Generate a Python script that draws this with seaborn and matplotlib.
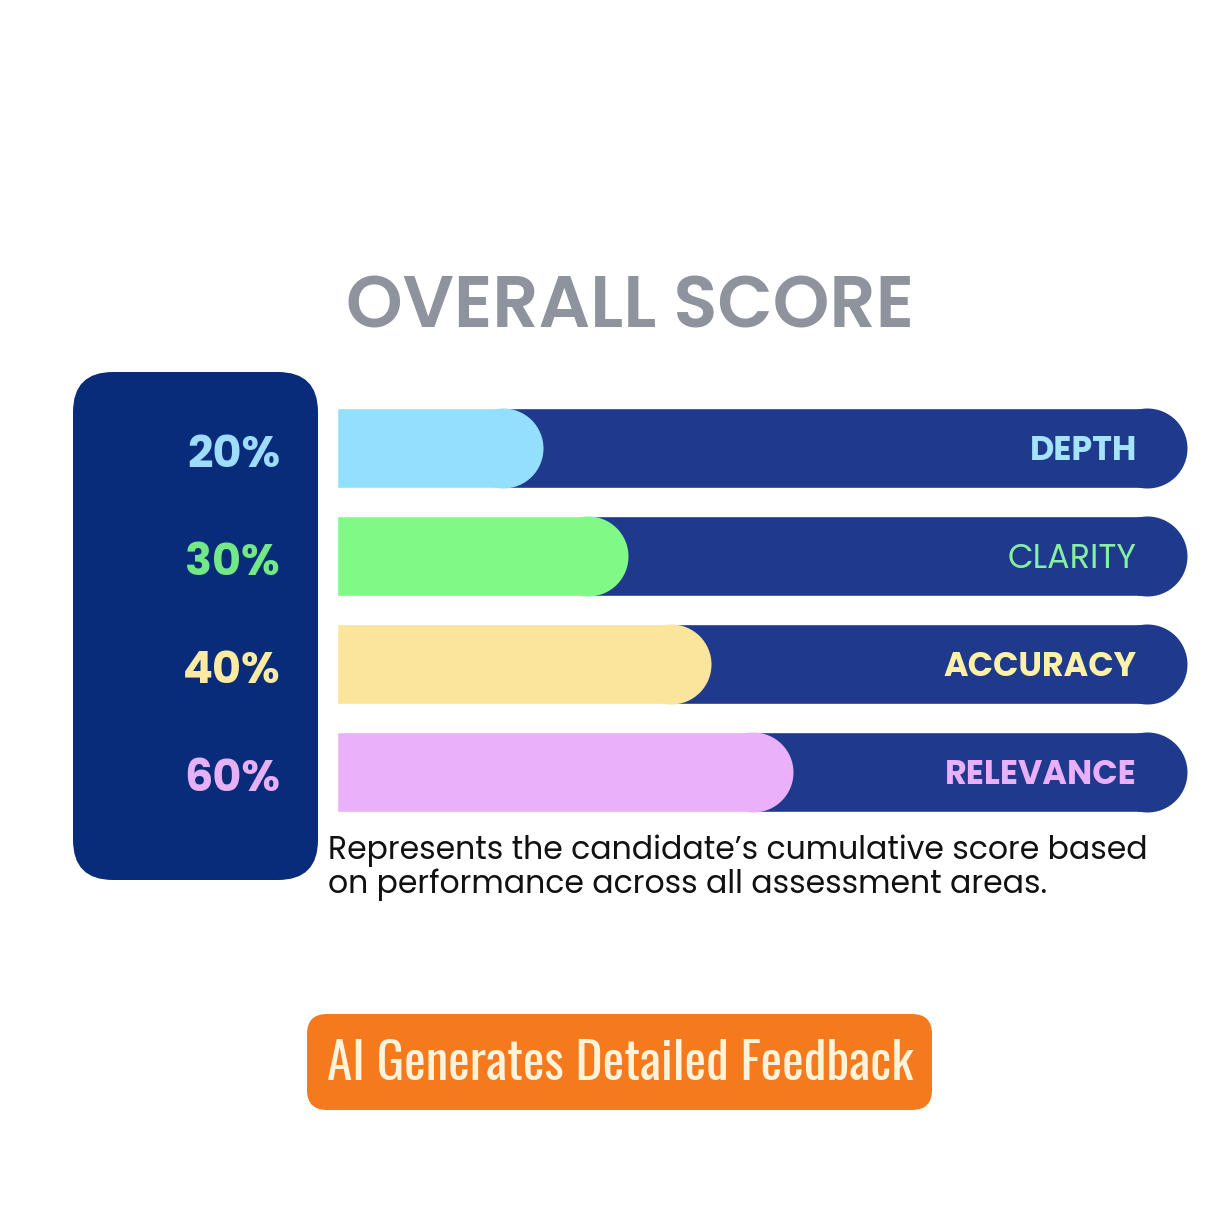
import pandas as pd
import seaborn as sns
import matplotlib.pyplot as plt
from matplotlib.patches import FancyBboxPatch

# --- data ---
areas = ["DEPTH", "CLARITY", "ACCURACY", "RELEVANCE"]
score_labels = ["20%", "30%", "40%", "60%"]
fill_extent = [24.2, 34.2, 44.0, 53.6]   # how far each coloured fill runs along its track (%)
track_extent = [100, 100, 100, 100]

fill_colors = ["#93dffe", "#80f986", "#fbe59b", "#ebb0fa"]
label_colors = ["#a5e3fb", "#86efa0", "#fdf1a6", "#e9b0f9"]
score_colors = ["#9fdcfb", "#74e886", "#fbeaa0", "#e6b0f5"]
label_weights = ["bold", "normal", "bold", "bold"]

caption = ["Represents the candidate\u2019s cumulative score based",
           "on performance across all assessment areas."]

sns.set_theme(style="white")
plt.rcParams["font.family"] = ["Poppins", "DejaVu Sans"]

W = H = 1210
fig = plt.figure(figsize=(12.1, 12.1), dpi=100)
fig.patch.set_facecolor("white")
renderer = fig.canvas.get_renderer()


def fit_width(txt, target_px):
    w = txt.get_window_extent(renderer=renderer).width
    txt.set_fontsize(txt.get_fontsize() * target_px / w)


# --- background layer in pixel coords ---
bg = fig.add_axes([0, 0, 1, 1])
bg.set_xlim(0, W)
bg.set_ylim(H, 0)
bg.axis("off")

bg.add_patch(FancyBboxPatch((73, 372), 245, 508, boxstyle="round,pad=0,rounding_size=40",
                            fc="#082c7a", ec="none"))
bg.add_patch(FancyBboxPatch((307, 1014), 625, 96, boxstyle="round,pad=0,rounding_size=20",
                            fc="#f47a1d", ec="none"))

# reference title has wide tracking; fit a little narrower so the letter height stays close
title = bg.text(630, 327, "OVERALL SCORE", ha="center", va="baseline", fontsize=46,
                fontweight="semibold", color="#8e939e",
                family=["Montserrat SemiBold", "Poppins", "DejaVu Sans"])
fit_width(title, 568)

cap1 = bg.text(328, 859, caption[0], ha="left", va="baseline", fontsize=19,
               color="#111111")
fit_width(cap1, 819)
bg.text(328, 893, caption[1], ha="left", va="baseline", fontsize=cap1.get_fontsize(),
        color="#111111")

btn = bg.text(620, 1080, "AI Generates Detailed Feedback", ha="center", va="baseline",
              fontsize=32, color="#fff3dc", family=["Oswald", "DejaVu Sans"])
fit_width(btn, 585)

# --- bars ---
x0, x1 = 337, 1187
row_top, row_bot = 394, 826
ax = fig.add_axes([x0 / W, 1 - row_bot / H, (x1 - x0) / W, (row_bot - row_top) / H])
df = pd.DataFrame({"area": areas, "track": track_extent, "fill": fill_extent})

bar_h = 80 / 108
sns.barplot(data=df, y="area", x="track", color="#1f3a8c", width=bar_h, saturation=1,
            errorbar=None, ax=ax, zorder=1)
n_track = len(ax.patches)
sns.barplot(data=df, y="area", x="fill", hue="area", palette=fill_colors, width=bar_h,
            saturation=1, errorbar=None, legend=False, ax=ax, zorder=3)
ax.set_xlim(0, 100)
ax.set_ylim(len(areas) - 0.5, -0.5)
ax.axis("off")

# round right ends: shorten each bar by the radius and cap it with a circle
r_data = 40 / (x1 - x0) * 100
cap_s = (80 * 72 / 100) ** 2
for k, p in enumerate(ax.patches):
    p.set_width(p.get_width() - r_data)
    z = 2 if k < n_track else 4
    ax.scatter(p.get_x() + p.get_width(), p.get_y() + p.get_height() / 2, s=cap_s,
               color=p.get_facecolor(), linewidths=0, zorder=z)

for i, name in enumerate(areas):
    ax.text(94.1, i + 12 / 108, name, ha="right", va="baseline", fontsize=24,
            fontweight=label_weights[i], color=label_colors[i], zorder=5)
    ax.text((280 - x0) / (x1 - x0) * 100, i + 19 / 108, score_labels[i], ha="right",
            va="baseline", fontsize=32, fontweight="bold", color=score_colors[i],
            clip_on=False, zorder=5)

fig.savefig("out.png", dpi=100, facecolor="white")
